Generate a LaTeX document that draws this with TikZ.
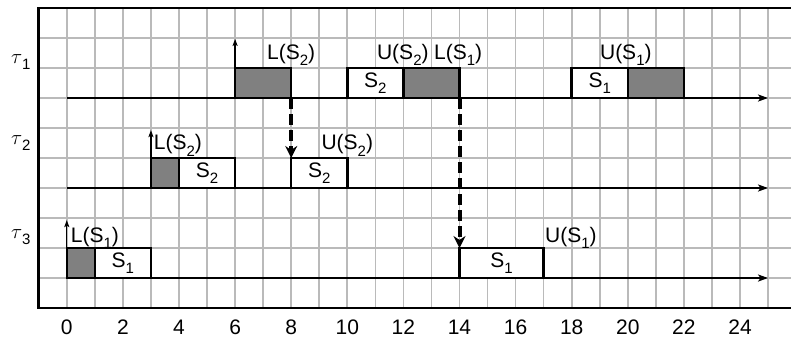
\documentclass[tikz,border=0pt]{standalone}
\usepackage{fontspec}
\setmainfont{Liberation Sans}
\usetikzlibrary{arrows.meta}
\newcommand\sbx[1]{\raisebox{-0.3em}{\fontsize{15}{15}\selectfont #1}}
\begin{document}
\begin{tikzpicture}[x=28.05pt,y=30pt,
  gridline/.style={draw=black!27, line width=1.6pt},
  frameline/.style={line width=2.7pt},
  axisline/.style={line width=1.9pt, -{Stealth[length=10pt,width=7pt,inset=2.5pt]}},
  uparrow/.style={line width=1.4pt, -{Stealth[length=7pt,width=5pt,inset=1.5pt]}},
  dasharrow/.style={line width=4pt, dash pattern=on 11pt off 5pt, -{Stealth[length=12pt,width=12pt]}},
  gbox/.style={draw, line width=2.5pt, fill=black!50, inner sep=0pt, outer sep=0pt, minimum height=30pt, anchor=south west},
  wbox/.style={draw, line width=2.5pt, fill=white, inner sep=0pt, outer sep=0pt, minimum height=30pt, anchor=south west, font=\fontsize{21}{23}\selectfont},
  lbl/.style={font=\fontsize{21}{23}\selectfont, inner sep=0pt, anchor=base},
  tick/.style={font=\fontsize{21}{23}\selectfont, inner sep=0pt},
  taulbl/.style={font=\fontsize{22}{24}\selectfont, inner sep=0pt}]
\useasboundingbox (-2.381,-1.0) rectangle (25.818,10.267);
\fill[white] (-2.381,-1.0) rectangle (25.818,10.267);
% grid
\foreach \i in {-1,...,25} \draw[gridline] (\i,0) -- (\i,10);
\foreach \j in {0,...,10} \draw[gridline] (-1,\j) -- (25.818,\j);
% frame
\draw[frameline] (25.818,10) -- (-1,10) -- (-1,0) -- (25.818,0);
% axes
\coordinate (a1s) at (0,7); \coordinate (a1e) at (25,7);
\coordinate (a2s) at (0,4); \coordinate (a2e) at (25,4);
\coordinate (a3s) at (0,1); \coordinate (a3e) at (25,1);
\draw[axisline] (a1s) -- (a1e);
\draw[axisline] (a2s) -- (a2e);
\draw[axisline] (a3s) -- (a3e);
% tau 1 boxes
\node[gbox, minimum width=56.1pt] (g1a) at (6,7) {};
\node[wbox, minimum width=56.1pt] (w1a) at (10,7) {S\sbx{2}};
\node[gbox, minimum width=56.1pt] (g1b) at (12,7) {};
\node[wbox, minimum width=56.1pt] (w1b) at (18,7) {S\sbx{1}};
\node[gbox, minimum width=56.1pt] (g1c) at (20,7) {};
% tau 2 boxes
\node[gbox, minimum width=28.05pt] (g2a) at (3,4) {};
\node[wbox, minimum width=56.1pt] (w2a) at (4,4) {S\sbx{2}};
\node[wbox, minimum width=56.1pt] (w2b) at (8,4) {S\sbx{2}};
% tau 3 boxes
\node[gbox, minimum width=28.05pt] (g3a) at (0,1) {};
\node[wbox, minimum width=56.1pt] (w3a) at (1,1) {S\sbx{1}};
\node[wbox, minimum width=84.15pt] (w3b) at (14,1) {S\sbx{1}};
% up arrows
\coordinate (u1) at (6,8.97);
\coordinate (u2) at (3,5.93);
\coordinate (u3) at (0,2.93);
\draw[uparrow] (g1a.south west) -- (u1);
\draw[uparrow] (g2a.south west) -- (u2);
\draw[uparrow] (g3a.south west) -- (u3);
% dashed arrows
\draw[dasharrow] (g1a.south east) -- (w2b.north west);
\draw[dasharrow] (g1b.south east) -- (w3b.north west);
% labels
\node[lbl] (l1a) at (8,8.3) {L(S\sbx{2})};
\node[lbl] (l1b) at (11.98,8.3) {U(S\sbx{2})};
\node[lbl] (l1c) at (13.95,8.3) {L(S\sbx{1})};
\node[lbl] (l1d) at (19.93,8.3) {U(S\sbx{1})};
\node[lbl] (l2a) at (3.96,5.27) {L(S\sbx{2})};
\node[lbl] (l2b) at (10,5.27) {U(S\sbx{2})};
\node[lbl] (l3a) at (1.0,2.2) {L(S\sbx{1})};
\node[lbl] (l3b) at (17.97,2.2) {U(S\sbx{1})};
% tau labels
\node[taulbl] (tau1) at (-1.64,8.2) {$\tau$\sbx{1}};
\node[taulbl] (tau2) at (-1.64,5.5) {$\tau$\sbx{2}};
\node[taulbl] (tau3) at (-1.64,2.37) {$\tau$\sbx{3}};
% ticks
\foreach \i in {0,2,...,24} \node[tick] (t\i) at (\i,-0.63) {\i};
\end{tikzpicture}
\end{document}
